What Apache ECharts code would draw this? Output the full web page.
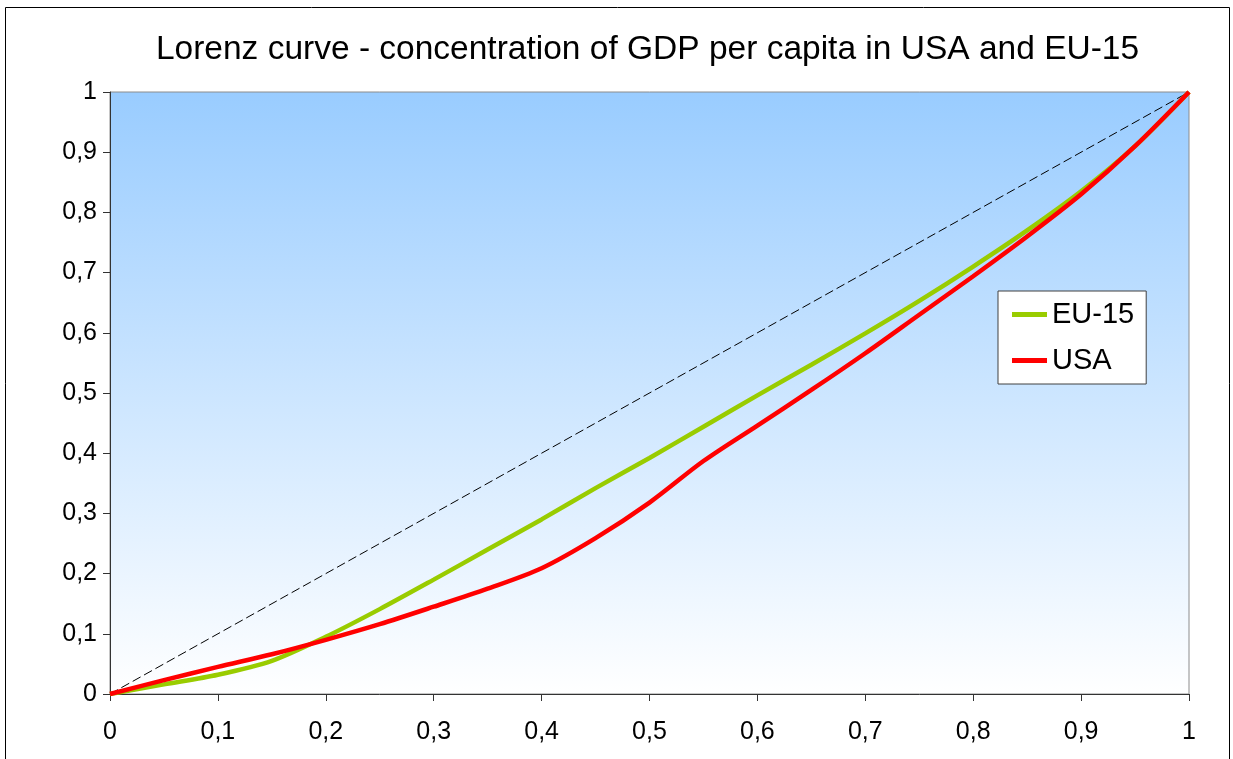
<!DOCTYPE html>
<html>
<head>
<meta charset="utf-8">
<script src="https://cdn.jsdelivr.net/npm/echarts@6/dist/echarts.min.js"></script>
<style>
  html, body { margin: 0; padding: 0; background: #fff; }
  #chart { width: 1233px; height: 759px; }
</style>
</head>
<body>
<div id="chart"></div>
<script>
// Cumulative share of population (x) and of GDP (y)
const populationShare = [0, 0.05, 0.1, 0.15, 0.2, 0.25, 0.3, 0.35, 0.4, 0.45, 0.5, 0.55, 0.6, 0.65, 0.7, 0.75, 0.8, 0.85, 0.9, 0.95, 1];
const eu15Share = [0, 0.016, 0.032, 0.055, 0.095, 0.141, 0.19, 0.24, 0.29, 0.342, 0.392, 0.444, 0.496, 0.547, 0.599, 0.653, 0.71, 0.77, 0.835, 0.91, 1];
const usaShare  = [0, 0.023, 0.045, 0.066, 0.09, 0.116, 0.145, 0.175, 0.209, 0.259, 0.318, 0.387, 0.446, 0.505, 0.566, 0.63, 0.694, 0.76, 0.83, 0.91, 1];
const equalityLine = [[0, 0], [1, 1]];
const seriesNames = ['EU-15', 'USA'];
const titleText = 'Lorenz curve - concentration of GDP per capita in USA and EU-15';

const FONT = '"Liberation Sans", Arial, sans-serif';
const pairs = (ys) => populationShare.map((x, i) => [x, ys[i]]);
const commaFmt = (v) => String(Math.round(v * 10) / 10).replace('.', ',');

const chart = echarts.init(document.getElementById('chart'), null, { renderer: 'canvas' });

const axisCommon = {
  type: 'value',
  min: 0,
  max: 1,
  interval: 0.1,
  axisLine: { show: true, lineStyle: { color: '#333', width: 1 } },
  axisTick: { show: true, inside: false, length: 7, lineStyle: { color: '#333' } },
  splitLine: { show: false },
  axisLabel: { color: '#000', fontSize: 25, fontFamily: FONT, formatter: commaFmt }
};

chart.setOption({
  animation: false,
  backgroundColor: '#fff',
  grid: {
    left: 110, top: 92, right: 44, bottom: 65,
    show: true,
    borderColor: '#8c8c8c',
    borderWidth: 1,
    backgroundColor: new echarts.graphic.LinearGradient(0, 0, 0, 1, [
      { offset: 0, color: '#99ccff' },
      { offset: 1, color: '#ffffff' }
    ])
  },
  xAxis: Object.assign({}, axisCommon, {
    axisLabel: Object.assign({}, axisCommon.axisLabel, { margin: 26 })
  }),
  yAxis: Object.assign({}, axisCommon, {
    axisLabel: Object.assign({}, axisCommon.axisLabel, { margin: 13 })
  }),
  legend: {
    data: seriesNames,
    orient: 'vertical',
    left: 998,
    top: 291,
    padding: [9, 12, 9, 14],
    itemGap: 17,
    itemWidth: 35,
    itemHeight: 5,
    icon: 'rect',
    backgroundColor: '#fff',
    borderColor: '#404040',
    borderWidth: 1,
    borderRadius: 0,
    textStyle: { color: '#000', fontSize: 29, fontFamily: FONT, lineHeight: 29 }
  },
  graphic: [
    {
      type: 'rect',
      shape: { x: 5.5, y: 7.5, width: 1224, height: 800 },
      style: { fill: 'none', stroke: '#000', lineWidth: 1 },
      z: 100
    },
    {
      type: 'text',
      x: 647.5,
      y: 50,
      style: {
        text: titleText,
        fill: '#000',
        font: '33.5px ' + FONT,
        textAlign: 'center',
        textVerticalAlign: 'middle'
      }
    }
  ],
  series: [
    {
      name: 'equality',
      type: 'line',
      data: equalityLine,
      symbol: 'none',
      silent: true,
      lineStyle: { color: '#000', width: 1, type: [9, 4] },
      z: 1
    },
    {
      name: seriesNames[0],
      type: 'line',
      data: pairs(eu15Share),
      smooth: 0.3,
      symbol: 'none',
      itemStyle: { color: '#99cc00' },
      lineStyle: { color: '#99cc00', width: 4.5 },
      z: 2
    },
    {
      name: seriesNames[1],
      type: 'line',
      data: pairs(usaShare),
      smooth: 0.3,
      symbol: 'none',
      itemStyle: { color: '#ff0000' },
      lineStyle: { color: '#ff0000', width: 4.5 },
      z: 3
    }
  ]
});
</script>
</body>
</html>
